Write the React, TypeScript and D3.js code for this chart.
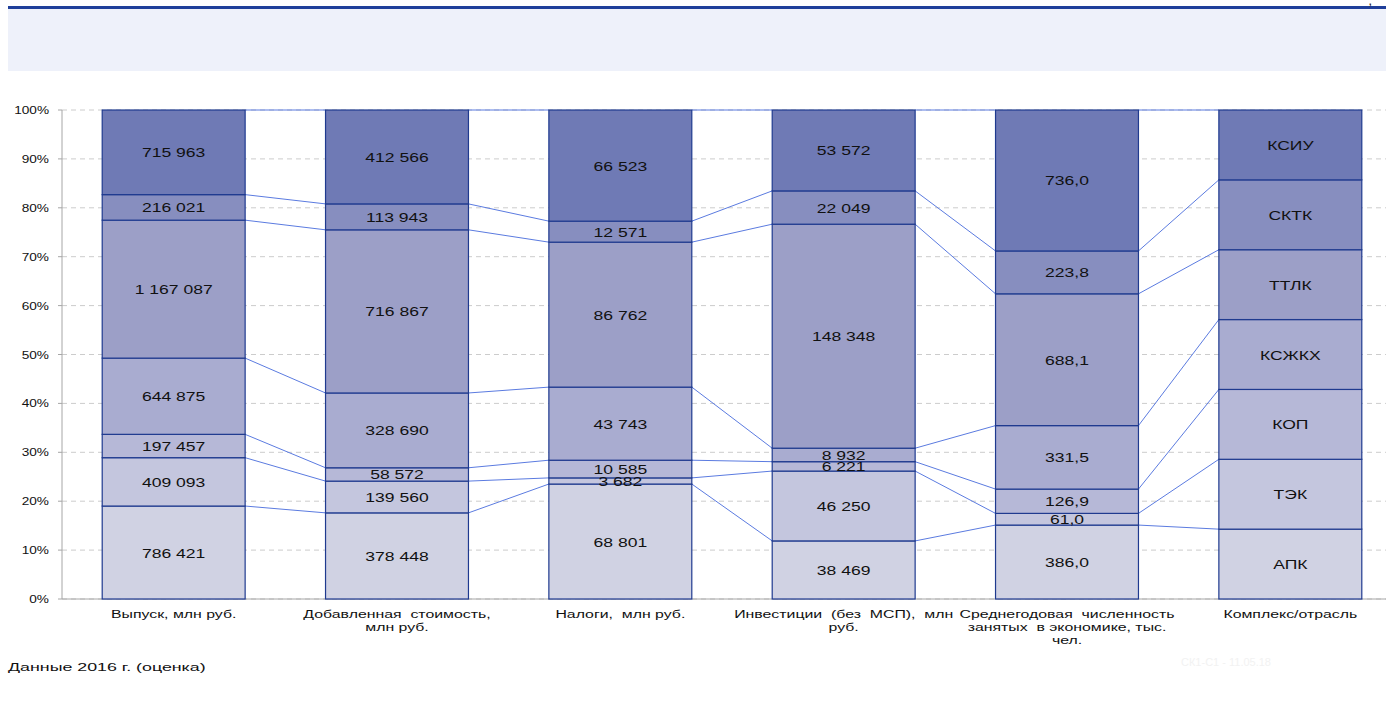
import React from "react";
import * as d3 from "d3";

const categories = [
  ["Выпуск, млн руб."],
  ["Добавленная  стоимость,", "млн руб."],
  ["Налоги,  млн руб."],
  ["Инвестиции  (без  МСП),  млн", "руб."],
  ["Среднегодовая  численность", "занятых  в экономике, тыс.", "чел."],
  ["Комплекс/отрасль"],
];

const seriesNames = ["АПК", "ТЭК", "КОП", "КСЖКХ", "ТТЛК", "СКТК", "КСИУ"];

// values per category, bottom to top (series order above)
const output = [786421, 409093, 197457, 644875, 1167087, 216021, 715963];
const valueAdded = [378448, 139560, 58572, 328690, 716867, 113943, 412566];
const taxes = [68801, 3682, 10585, 43743, 86762, 12571, 66523];
const investments = [38469, 46250, 6221, 8932, 148348, 22049, 53572];
const employment = [386.0, 61.0, 126.9, 331.5, 688.1, 223.8, 736.0];
const complexes = [1, 1, 1, 1, 1, 1, 1];

const tickValues = [0, 0.1, 0.2, 0.3, 0.4, 0.5, 0.6, 0.7, 0.8, 0.9, 1.0];

const colors = ["#D0D2E3", "#C4C6DE", "#B6B8D7", "#A9ACD0", "#9C9FC7", "#878EBF", "#6F7AB5"];

const fmtInt = (v: number) => d3.format(",d")(v).replace(/,/g, " ");
const fmtDec = (v: number) => d3.format(".1f")(v).replace(".", ",");

function T(props: { x: number; y: number; sx: number; size: number; anchor?: string; fill?: string; children: React.ReactNode }) {
  const { x, y, sx, size, anchor = "start", fill = "#111", children } = props;
  return (
    <g transform={`translate(${x},${y}) scale(${sx},1)`}>
      <text x={0} y={0} fontSize={size} textAnchor={anchor} fill={fill} style={{ whiteSpace: "pre" }}>
        {children}
      </text>
    </g>
  );
}

export default function App() {
  const W = 1386, H = 709;
  const left = 62, right = 1402, top = 110, bottom = 599;
  const font = "'Liberation Sans', Arial, sans-serif";

  const rows = [output, valueAdded, taxes, investments, employment, complexes];
  const labelFns: ((v: number, s: number) => string)[] = [
    (v) => fmtInt(v),
    (v) => fmtInt(v),
    (v) => fmtInt(v),
    (v) => fmtInt(v),
    (v) => fmtDec(v),
    (_v, s) => seriesNames[s],
  ];

  const idx = categories.map((_, i) => String(i));
  const x = d3.scaleBand<string>().domain(idx).range([left, right]).paddingInner(0.36).paddingOuter(0.18);
  const y = d3.scaleLinear().domain([0, 1]).range([bottom, top]);
  const bw = x.bandwidth();

  const stacks = rows.map((r) => {
    const total = d3.sum(r);
    let acc = 0;
    return r.map((v) => {
      const y0 = acc / total;
      acc += v;
      return { y0, y1: acc / total, v };
    });
  });

  return (
    <svg width={W} height={H} style={{ position: "absolute", left: 0, top: 0, fontFamily: font }}>
      <rect x={0} y={0} width={W} height={H} fill="#fff" />
      <rect x={8} y={6} width={W - 8} height={3} fill="#1F3F9A" />
      <rect x={8} y={9} width={W - 8} height={62} fill="#EEF1FA" />
      <text x={1369} y={5} fontSize={9} fontWeight="bold" fill="#222">,</text>

      {/* gridlines */}
      {tickValues.map((t) => (
        <line key={"g" + t} x1={left} x2={W} y1={y(t)} y2={y(t)} stroke="#CCCCCC" strokeDasharray="5,4" strokeWidth={1} />
      ))}
      {/* axes */}
      <line x1={left} x2={left} y1={top} y2={bottom} stroke="#A6A6A6" />
      <line x1={left} x2={W} y1={bottom} y2={bottom} stroke="#A6A6A6" />
      {tickValues.map((t) => (
        <g key={"t" + t}>
          <line x1={left - 4} x2={left} y1={y(t)} y2={y(t)} stroke="#A6A6A6" />
          <T x={49} y={y(t) + 4} sx={1.3} size={10.5} anchor="end">
            {d3.format(".0%")(t)}
          </T>
        </g>
      ))}

      {/* connector lines */}
      {seriesNames.map((_, s) =>
        rows.slice(0, -1).map((_r, i) => (
          <line
            key={"c" + s + "-" + i}
            x1={(x(String(i)) as number) + bw}
            y1={y(stacks[i][s].y1)}
            x2={x(String(i + 1)) as number}
            y2={y(stacks[i + 1][s].y1)}
            stroke="#5B7BE0"
            strokeWidth={1}
          />
        ))
      )}

      {/* bars */}
      {stacks.map((st, i) =>
        st.map((d, s) => (
          <rect
            key={"b" + i + "-" + s}
            x={x(String(i)) as number}
            y={y(d.y1)}
            width={bw}
            height={y(d.y0) - y(d.y1)}
            fill={colors[s]}
            stroke="#1F3A8F"
            strokeWidth={1.2}
          />
        ))
      )}

      {/* labels */}
      {stacks.map((st, i) =>
        st.map((d, s) => (
          <T
            key={"l" + i + "-" + s}
            x={(x(String(i)) as number) + bw / 2}
            y={y((d.y0 + d.y1) / 2) + 5}
            sx={1.3}
            size={13.5}
            anchor="middle"
          >
            {labelFns[i](d.v, s)}
          </T>
        ))
      )}

      {/* category labels */}
      {categories.map((lines, i) =>
        lines.map((ln, k) => (
          <T key={"x" + i + "-" + k} x={(x(String(i)) as number) + bw / 2} y={618 + k * 13} sx={1.38} size={11.5} anchor="middle">
            {ln}
          </T>
        ))
      )}

      <T x={8} y={671} sx={1.55} size={11.5}>Данные 2016 г. (оценка)</T>
      <text x={1181} y={666} fontSize={11} fill="#F2F2F2">СК1-С1 - 11.05.18</text>
    </svg>
  );
}
